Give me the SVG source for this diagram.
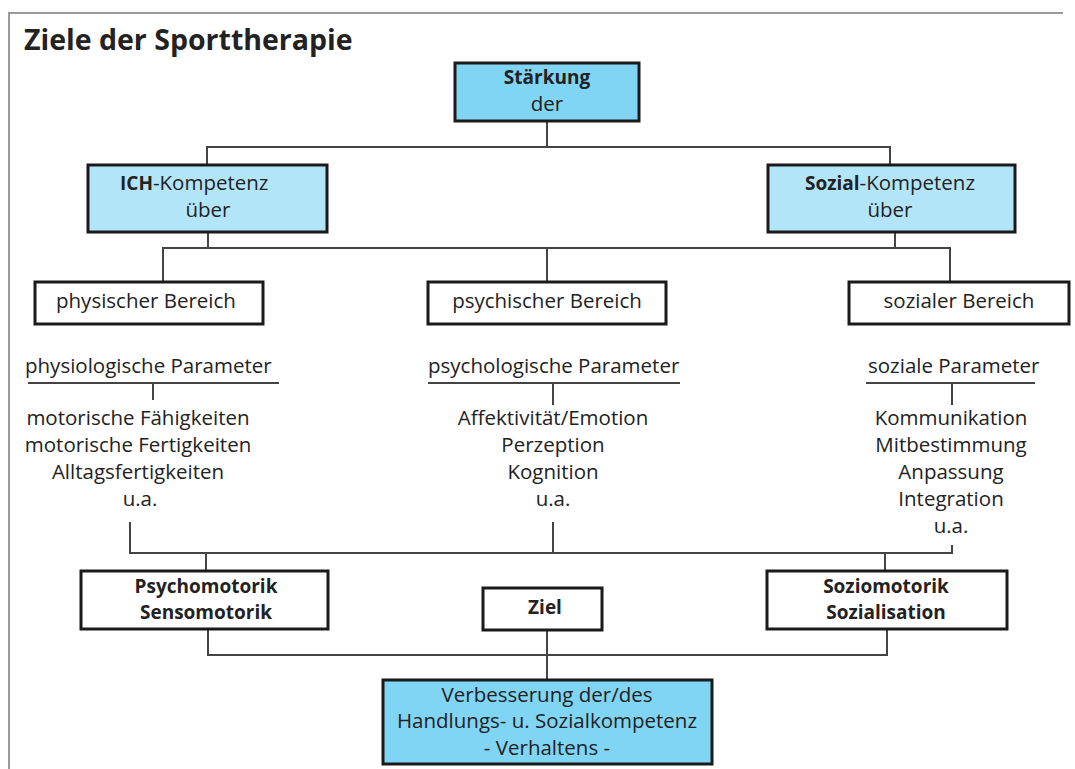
<svg xmlns="http://www.w3.org/2000/svg" width="1075" height="769" viewBox="0 0 1075 769">
<style>
text{font-family:"Open Sans","Noto Sans",sans-serif;font-size:20.5px;fill:#222;}
.b{font-weight:bold;font-size:19px;}
.c{text-anchor:middle;}
.box{fill:#fff;stroke:#1a1a1a;stroke-width:3;}
.blue{fill:#80d4f4;}
.lblue{fill:#b3e5f9;}
.ln{fill:none;stroke:#444;stroke-width:2;}
.frame{fill:none;stroke:#999;stroke-width:2;}
</style>
<rect width="1075" height="769" fill="#fff"/>
<path class="frame" d="M9,769 V13 H1063"/>
<text x="24" y="50" class="b" style="font-size:28.5px">Ziele der Sporttherapie</text>

<g id="connectors">
<path class="ln" d="M547,121 V147 M207,165 V147 H890 V165"/>
<path class="ln" d="M208,232 V248 M163,282 V248 H950 V282 M547,248 V282 M895,232 V248"/>
<path class="ln" d="M28,383 H279 M153,383 V400"/>
<path class="ln" d="M428,383 H680 M553,383 V405"/>
<path class="ln" d="M866,383 H1035 M952,383 V405"/>
<path class="ln" d="M130,522 V553 H952 V545 M553,522 V553 M206,553 V571 M885,553 V571"/>
<path class="ln" d="M208,629 V655 H887 V629 M547,630 V680"/>
</g>

<g id="staerkung">
<rect class="box blue" x="455" y="63" width="184" height="58"/>
<text x="547" y="84" class="b c">Stärkung</text>
<text x="547" y="111" class="c">der</text>
</g>
<g id="ich">
<rect class="box lblue" x="88" y="165" width="239" height="67"/>
<text x="120" y="190"><tspan class="b">ICH</tspan>-Kompetenz</text>
<text x="208" y="217" class="c">über</text>
</g>
<g id="sozial">
<rect class="box lblue" x="768" y="165" width="247" height="67"/>
<text x="890" y="190" class="c"><tspan class="b">Sozial</tspan>-Kompetenz</text>
<text x="890" y="217" class="c">über</text>
</g>
<g id="physisch">
<rect class="box" x="35" y="282" width="228" height="42"/>
<text x="56" y="308">physischer Bereich</text>
</g>
<g id="psychisch">
<rect class="box" x="428" y="282" width="238" height="42"/>
<text x="547" y="308" class="c">psychischer Bereich</text>
</g>
<g id="sozialer">
<rect class="box" x="849" y="282" width="220" height="42"/>
<text x="959" y="308" class="c">sozialer Bereich</text>
</g>

<g id="physiologisch">
<text x="25" y="373">physiologische Parameter</text>
<text x="138" y="425" class="c">motorische Fähigkeiten</text>
<text x="138" y="452" class="c">motorische Fertigkeiten</text>
<text x="138" y="479" class="c">Alltagsfertigkeiten</text>
<text x="140" y="506" class="c">u.a.</text>
</g>
<g id="psychologisch">
<text x="428" y="373">psychologische Parameter</text>
<text x="553" y="425" class="c">Affektivität/Emotion</text>
<text x="553" y="452" class="c">Perzeption</text>
<text x="553" y="479" class="c">Kognition</text>
<text x="553" y="506" class="c">u.a.</text>
</g>
<g id="soziale">
<text x="868" y="373">soziale Parameter</text>
<text x="951" y="425" class="c">Kommunikation</text>
<text x="951" y="452" class="c">Mitbestimmung</text>
<text x="951" y="479" class="c">Anpassung</text>
<text x="951" y="506" class="c">Integration</text>
<text x="951" y="533" class="c">u.a.</text>
</g>

<g id="psychomotorik">
<rect class="box" x="81" y="571" width="247" height="58"/>
<text x="206" y="593" class="b c">Psychomotorik</text>
<text x="206" y="619" class="b c">Sensomotorik</text>
</g>
<g id="ziel">
<rect class="box" x="483" y="588" width="119" height="42"/>
<text x="545" y="614" class="b c">Ziel</text>
</g>
<g id="soziomotorik">
<rect class="box" x="767" y="571" width="240" height="58"/>
<text x="886" y="593" class="b c">Soziomotorik</text>
<text x="886" y="619" class="b c">Sozialisation</text>
</g>
<g id="verbesserung">
<rect class="box blue" x="383" y="680" width="329" height="84"/>
<text x="547" y="702" class="c">Verbesserung der/des</text>
<text x="547" y="728" class="c">Handlungs- u. Sozialkompetenz</text>
<text x="547" y="755" class="c">- Verhaltens -</text>
</g>
</svg>
